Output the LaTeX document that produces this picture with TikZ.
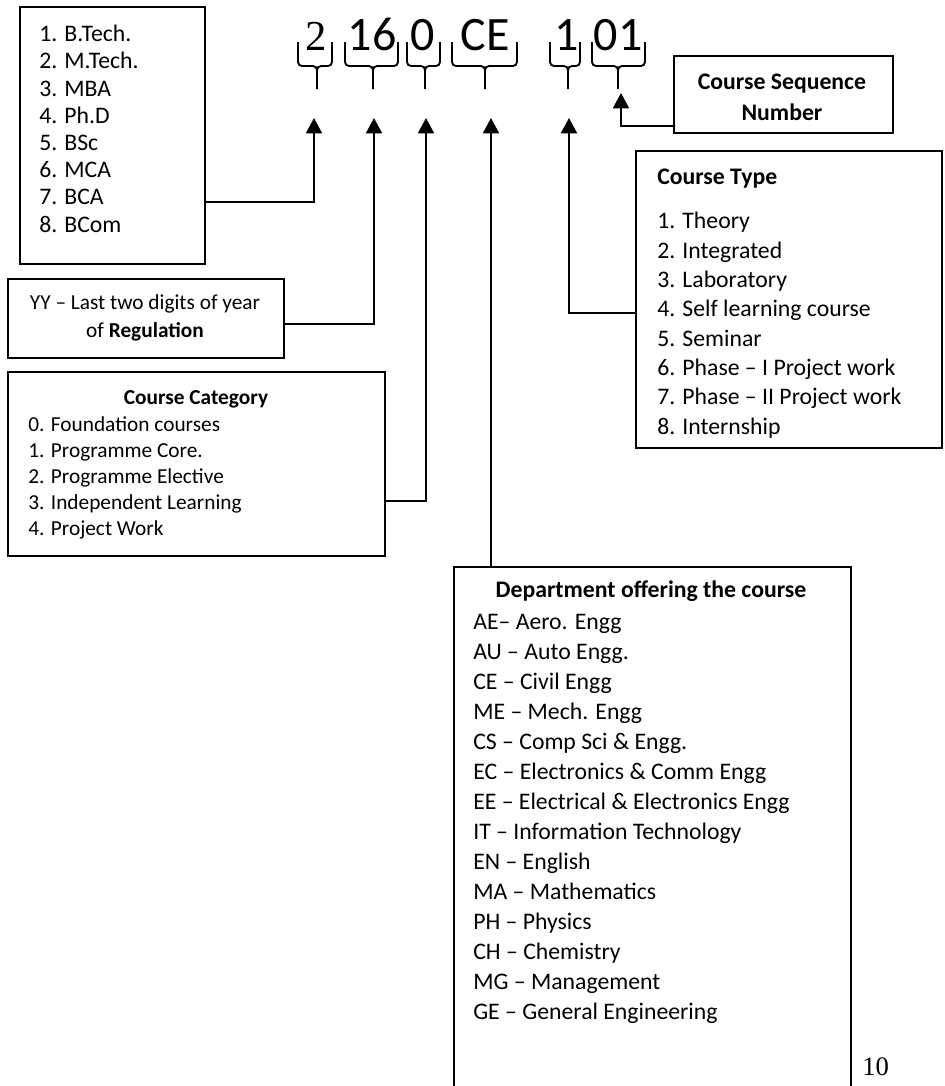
\documentclass[tikz,border=0pt]{standalone}
\usepackage{fontspec}
\setmainfont{Carlito}
\newfontfamily\timesfont{Liberation Serif}
\usetikzlibrary{arrows.meta,positioning}

\begin{document}
\begin{tikzpicture}[x=0.75pt,y=-0.75pt,
 box/.style={draw,line width=1.3pt,anchor=north west,inner sep=0pt},
 conn/.style={line width=1.5pt,-{Triangle[length=11.5pt,width=12pt]}},
 brc/.style={line width=1.4pt,rounded corners=3pt},
 code/.style={font=\fontsize{36}{36}\selectfont,anchor=base,inner sep=0pt},
 txt/.style={inner sep=0pt,align=left,anchor=base west}]
 \useasboundingbox (0,0) rectangle (945,1086);
 % the code
 \node[code,font=\timesfont\fontsize{32}{32}\selectfont] (c2) at (316,50) {2};
 \node[code] (c16) at (372,50) {16};
 \node[code] (c0) at (423,50) {0};
 \node[code] (cCE) at (485,50) {CE};
 \node[code] (c1) at (567,50) {1};
 \node[code] (c01) at (618,50) {01};
 \draw[brc] (298,42) |- (317,66) -- (317,89) (332,42) |- (317,66) -- (317,89);
 \draw[brc] (345,42) |- (373,66) -- (373,89) (398,42) |- (373,66) -- (373,89);
 \draw[brc] (407,42) |- (425,66) -- (425,89) (440,42) |- (425,66) -- (425,89);
 \draw[brc] (452,42) |- (485,66) -- (485,89) (517,42) |- (485,66) -- (485,89);
 \draw[brc] (550,42) |- (568,66) -- (568,89) (580,42) |- (568,66) -- (568,89);
 \draw[brc] (592,42) |- (618,66) -- (618,89) (645,42) |- (618,66) -- (618,89);
 \coordinate (a2) at (314,118);
 \coordinate (a16) at (374,118);
 \coordinate (a0) at (426,118);
 \coordinate (aCE) at (491,118);
 \coordinate (a1) at (569,118);
 \coordinate (a01) at (621,93);

 % boxes
 \node[box,minimum width=138.75pt,minimum height=192.75pt] (deg) at (19,6) {};
 \node[box,minimum width=207pt,minimum height=59.25pt] (yy) at (7,278) {};
 \node[box,minimum width=282.75pt,minimum height=138pt] (cat) at (7,371) {};
 \node[box,minimum width=297.75pt,minimum height=397.5pt] (dept) at (453,566) {};
 \node[box,minimum width=229.5pt,minimum height=222.75pt] (type) at (635,150) {};
 \node[box,minimum width=164.25pt,minimum height=57.75pt] (seq) at (673,55) {};

 % texts (base = last line)
 \node[txt,font=\fontsize{17.8}{20.4}\selectfont] (deg-list) at (39,232)
  {1. B.Tech.\\2. M.Tech.\\3. MBA\\4. Ph.D\\5. BSc\\6. MCA\\7. BCA\\8. BCom};
 \node[txt,anchor=base,align=center,font=\fontsize{16}{21}\selectfont] (yy-text) at (145,337)
  {YY – Last two digits of year\\of \textbf{Regulation}};
 \node[txt,anchor=base,font=\bfseries\fontsize{16}{16}\selectfont] (cat-title) at (196,404) {Course Category};
 \node[txt,font=\fontsize{16}{19.4}\selectfont] (cat-list) at (28,535)
  {0. Foundation courses\\1. Programme Core.\\2. Programme Elective\\3. Independent Learning\\4. Project Work};
 \node[txt,font=\bfseries\fontsize{17.8}{17.8}\selectfont] (type-title) at (657,184) {Course Type};
 \node[txt,font=\fontsize{17.8}{22}\selectfont] (type-list) at (657,434)
  {1. Theory\\2. Integrated\\3. Laboratory\\4. Self learning course\\5. Seminar\\6. Phase – I Project work\\7. Phase – II Project work\\8. Internship};
 \node[txt,anchor=base,align=center,font=\bfseries\fontsize{17.8}{23.25}\selectfont] (seq-text) at (782,120)
  {Course Sequence\\Number};
 \node[txt,anchor=base,font=\bfseries\fontsize{17.8}{17.8}\selectfont] (dept-title) at (651,597) {Department offering the course};
 \node[txt,font=\fontsize{17.8}{22.5}\selectfont] (dept-list) at (473,1019)
  {AE– Aero. Engg\\AU – Auto Engg.\\CE – Civil Engg\\ME – Mech. Engg\\CS – Comp Sci \& Engg.\\EC – Electronics \& Comm Engg\\EE – Electrical \& Electronics Engg\\IT – Information Technology\\EN – English\\MA – Mathematics\\PH – Physics\\CH – Chemistry\\MG – Management\\GE – General Engineering};
 \node[txt,font=\timesfont\fontsize{20}{20}\selectfont] (pg) at (862,1075) {10};

 % connectors
 \draw[conn] (deg.south east) ++(0,-63) -| (a2);
 \draw[conn] (yy.south east) ++(0,-35) -| (a16);
 \draw[conn] (cat.south east) ++(0,-56) -| (a0);
 \draw[conn] (dept.north -| aCE) -- (aCE);
 \draw[conn] (type.north west) ++(0,163) -| (a1);
 \draw[conn] (seq.south west) ++(0,-8) -| (a01);
\end{tikzpicture}
\end{document}
